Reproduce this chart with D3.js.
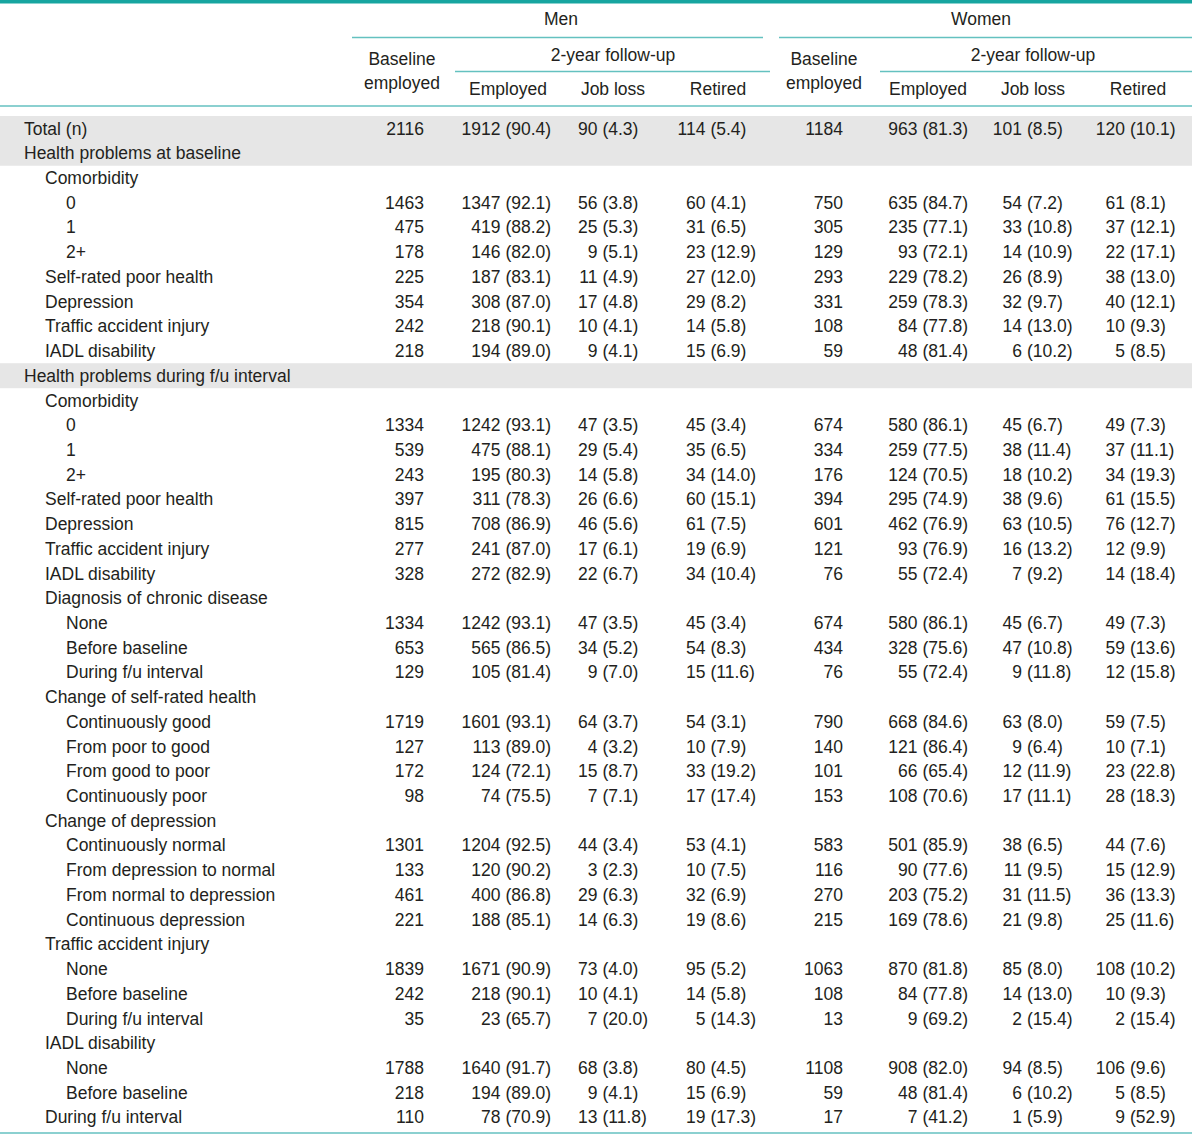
<!DOCTYPE html>
<html>
<head>
<meta charset="utf-8">
<script src="https://cdn.jsdelivr.net/npm/d3@7"></script>
<style>
  html, body { margin: 0; padding: 0; background: #ffffff; }
  svg text { font-family: "Liberation Sans", Arial, Helvetica, sans-serif; font-size: 17.5px; fill: #231f20; }
</style>
</head>
<body>
<svg id="chart" width="1200" height="1134"></svg>
<script>
// ---------- DATA ----------
const rowLabels = [
  "Total (n)", "Health problems at baseline", "Comorbidity", "0", "1", "2+",
  "Self-rated poor health", "Depression", "Traffic accident injury", "IADL disability",
  "Health problems during f/u interval", "Comorbidity", "0", "1", "2+",
  "Self-rated poor health", "Depression", "Traffic accident injury", "IADL disability",
  "Diagnosis of chronic disease", "None", "Before baseline", "During f/u interval",
  "Change of self-rated health", "Continuously good", "From poor to good", "From good to poor", "Continuously poor",
  "Change of depression", "Continuously normal", "From depression to normal", "From normal to depression", "Continuous depression",
  "Traffic accident injury", "None", "Before baseline", "During f/u interval",
  "IADL disability", "None", "Before baseline", "During f/u interval"
];
const rowLevels = [0,0,1,2,2,2,1,1,1,1, 0,1,2,2,2,1,1,1,1, 1,2,2,2, 1,2,2,2,2, 1,2,2,2,2, 1,2,2,2, 1,2,2,1];
const shadedRows = [0, 1, 10];

const groups = ["Men", "Women"];
const subHeader = "2-year follow-up";
const baselineHeader = ["Baseline", "employed"];
const outcomes = ["Employed", "Job loss", "Retired"];

const _ = null;
const menBase     = [2116,_,_,1463,475,178,225,354,242,218, _,_,1334,539,243,397,815,277,328, _,1334,653,129, _,1719,127,172,98, _,1301,133,461,221, _,1839,242,35, _,1788,218,110];
const menEmp      = [1912,_,_,1347,419,146,187,308,218,194, _,_,1242,475,195,311,708,241,272, _,1242,565,105, _,1601,113,124,74, _,1204,120,400,188, _,1671,218,23, _,1640,194,78];
const menEmpPct   = [90.4,_,_,92.1,88.2,82.0,83.1,87.0,90.1,89.0, _,_,93.1,88.1,80.3,78.3,86.9,87.0,82.9, _,93.1,86.5,81.4, _,93.1,89.0,72.1,75.5, _,92.5,90.2,86.8,85.1, _,90.9,90.1,65.7, _,91.7,89.0,70.9];
const menLoss     = [90,_,_,56,25,9,11,17,10,9, _,_,47,29,14,26,46,17,22, _,47,34,9, _,64,4,15,7, _,44,3,29,14, _,73,10,7, _,68,9,13];
const menLossPct  = [4.3,_,_,3.8,5.3,5.1,4.9,4.8,4.1,4.1, _,_,3.5,5.4,5.8,6.6,5.6,6.1,6.7, _,3.5,5.2,7.0, _,3.7,3.2,8.7,7.1, _,3.4,2.3,6.3,6.3, _,4.0,4.1,20.0, _,3.8,4.1,11.8];
const menRet      = [114,_,_,60,31,23,27,29,14,15, _,_,45,35,34,60,61,19,34, _,45,54,15, _,54,10,33,17, _,53,10,32,19, _,95,14,5, _,80,15,19];
const menRetPct   = [5.4,_,_,4.1,6.5,12.9,12.0,8.2,5.8,6.9, _,_,3.4,6.5,14.0,15.1,7.5,6.9,10.4, _,3.4,8.3,11.6, _,3.1,7.9,19.2,17.4, _,4.1,7.5,6.9,8.6, _,5.2,5.8,14.3, _,4.5,6.9,17.3];

const womenBase    = [1184,_,_,750,305,129,293,331,108,59, _,_,674,334,176,394,601,121,76, _,674,434,76, _,790,140,101,153, _,583,116,270,215, _,1063,108,13, _,1108,59,17];
const womenEmp     = [963,_,_,635,235,93,229,259,84,48, _,_,580,259,124,295,462,93,55, _,580,328,55, _,668,121,66,108, _,501,90,203,169, _,870,84,9, _,908,48,7];
const womenEmpPct  = [81.3,_,_,84.7,77.1,72.1,78.2,78.3,77.8,81.4, _,_,86.1,77.5,70.5,74.9,76.9,76.9,72.4, _,86.1,75.6,72.4, _,84.6,86.4,65.4,70.6, _,85.9,77.6,75.2,78.6, _,81.8,77.8,69.2, _,82.0,81.4,41.2];
const womenLoss    = [101,_,_,54,33,14,26,32,14,6, _,_,45,38,18,38,63,16,7, _,45,47,9, _,63,9,12,17, _,38,11,31,21, _,85,14,2, _,94,6,1];
const womenLossPct = [8.5,_,_,7.2,10.8,10.9,8.9,9.7,13.0,10.2, _,_,6.7,11.4,10.2,9.6,10.5,13.2,9.2, _,6.7,10.8,11.8, _,8.0,6.4,11.9,11.1, _,6.5,9.5,11.5,9.8, _,8.0,13.0,15.4, _,8.5,10.2,5.9];
const womenRet     = [120,_,_,61,37,22,38,40,10,5, _,_,49,37,34,61,76,12,14, _,49,59,12, _,59,10,23,28, _,44,15,36,25, _,108,10,2, _,106,5,9];
const womenRetPct  = [10.1,_,_,8.1,12.1,17.1,13.0,12.1,9.3,8.5, _,_,7.3,11.1,19.3,15.5,12.7,9.9,18.4, _,7.3,13.6,15.8, _,7.5,7.1,22.8,18.3, _,7.6,12.9,13.3,11.6, _,10.2,9.3,15.4, _,9.6,8.5,52.9];

// ---------- LAYOUT ----------
const W = 1200, tableRight = 1192;
const teal = "#17a5a0", tealLight = "#64c1c0";
const svg = d3.select("#chart");

const rowScale = d3.scaleBand()
  .domain(d3.range(rowLabels.length))
  .range([116, 116 + rowLabels.length * 24.72])
  .paddingInner(0).paddingOuter(0);

const indentScale = d3.scaleOrdinal().domain([0, 1, 2]).range([24, 45, 66]);

// anchor of each column: baseline = right edge; others = end of count (paren follows)
const colKeys = ["mB","mE","mL","mR","wB","wE","wL","wR"];
const colAnchor = d3.scaleOrdinal().domain(colKeys)
  .range([424, 500.5, 597.5, 705.5, 843, 917.5, 1022, 1125]);
const headerCenter = d3.scaleOrdinal().domain(colKeys)
  .range([402, 508, 613, 718, 824, 928, 1033, 1138]);

const columns = [
  {key:"mB", n: menBase},
  {key:"mE", n: menEmp, p: menEmpPct},
  {key:"mL", n: menLoss, p: menLossPct},
  {key:"mR", n: menRet, p: menRetPct},
  {key:"wB", n: womenBase},
  {key:"wE", n: womenEmp, p: womenEmpPct},
  {key:"wL", n: womenLoss, p: womenLossPct},
  {key:"wR", n: womenRet, p: womenRetPct}
];

const fmt = d3.format(".1f");

// shaded bands
svg.append("g").selectAll("rect").data(shadedRows).join("rect")
  .attr("x", 0).attr("width", tableRight)
  .attr("y", d => rowScale(d))
  .attr("height", rowScale.bandwidth() + 0.3)
  .attr("fill", "#e6e6e6");

// rules
const rules = svg.append("g");
rules.append("rect").attr("x", 0).attr("y", 0).attr("width", tableRight).attr("height", 3.5).attr("fill", teal);
const lineSpecs = [
  {x1: 352, x2: 763, y: 37.5},
  {x1: 779, x2: tableRight, y: 37.5},
  {x1: 455, x2: 770, y: 71.5},
  {x1: 880, x2: tableRight, y: 71.5},
  {x1: 0, x2: tableRight, y: 106}
];
rules.selectAll("line.h").data(lineSpecs).join("line").attr("class","h")
  .attr("x1", d => d.x1).attr("x2", d => d.x2)
  .attr("y1", d => d.y).attr("y2", d => d.y)
  .attr("stroke", tealLight).attr("stroke-width", 1.4);
rules.append("line").attr("x1", 0).attr("x2", tableRight).attr("y1", 1133).attr("y2", 1133)
  .attr("stroke", tealLight).attr("stroke-width", 1.6);

// headers
const hdr = svg.append("g").attr("text-anchor", "middle");
hdr.selectAll("text.grp").data(groups).join("text").attr("class","grp")
  .attr("x", (d,i) => i === 0 ? 561 : 981).attr("y", 25).text(d => d);
hdr.selectAll("text.fu").data(["mL","wL"]).join("text").attr("class","fu")
  .attr("x", d => headerCenter(d)).attr("y", 60.5).text(subHeader);
["mB","wB"].forEach(k => {
  hdr.append("text").attr("x", headerCenter(k)).attr("y", 64.5).text(baselineHeader[0]);
  hdr.append("text").attr("x", headerCenter(k)).attr("y", 89).text(baselineHeader[1]);
});
["mE","mL","mR","wE","wL","wR"].forEach((k,i) => {
  hdr.append("text").attr("x", headerCenter(k)).attr("y", 95).text(outcomes[i % 3]);
});

// row labels
const baseY = i => rowScale(i) + 18.6;
svg.append("g").selectAll("text").data(rowLabels).join("text")
  .attr("x", (d,i) => indentScale(rowLevels[i]))
  .attr("y", (d,i) => baseY(i))
  .text(d => d);

// values
const body = svg.append("g");
columns.forEach(col => {
  const g = body.append("g");
  const idx = d3.range(rowLabels.length).filter(i => col.n[i] !== null);
  g.selectAll("text.n").data(idx).join("text").attr("class","n")
    .attr("text-anchor", "end")
    .attr("x", colAnchor(col.key))
    .attr("y", i => baseY(i))
    .text(i => col.n[i]);
  if (col.p) {
    g.selectAll("text.p").data(idx).join("text").attr("class","p")
      .attr("text-anchor", "start")
      .attr("x", colAnchor(col.key) + 4.9)
      .attr("y", i => baseY(i))
      .text(i => "(" + fmt(col.p[i]) + ")");
  }
});
</script>
</body>
</html>
